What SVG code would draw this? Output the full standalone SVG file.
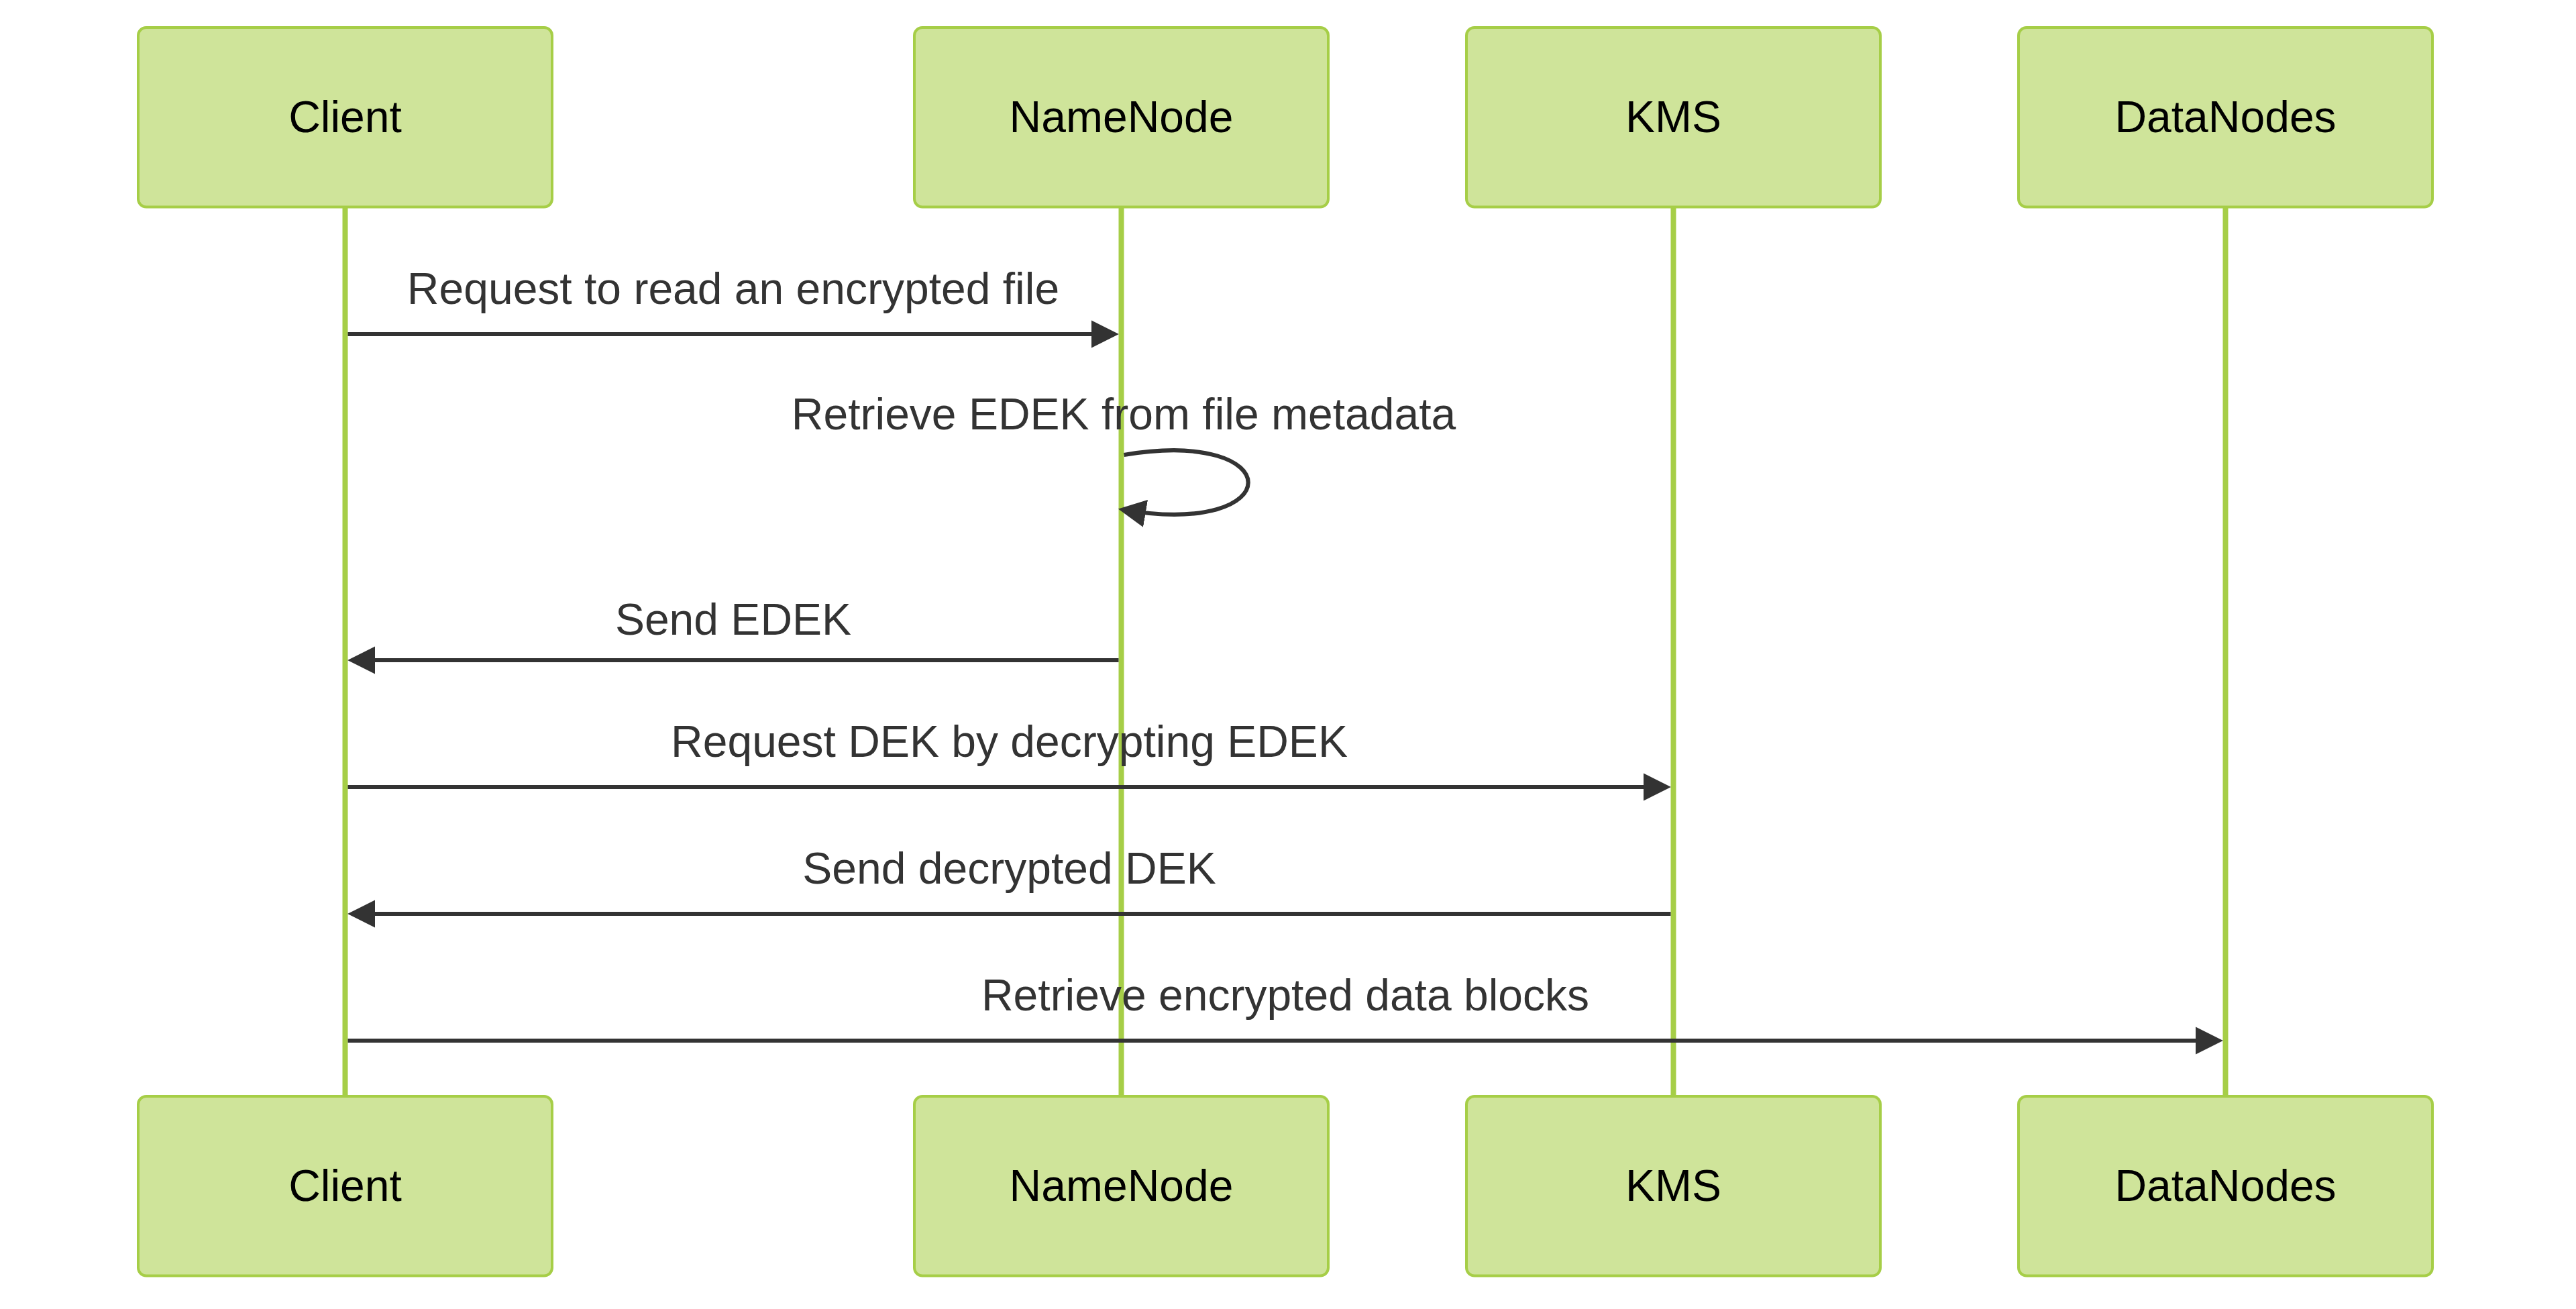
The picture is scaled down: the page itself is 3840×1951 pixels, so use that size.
<svg xmlns="http://www.w3.org/2000/svg" width="3840" height="1951" viewBox="0 0 3840 1951">
  <style>
    .actor { fill: #cfe49a; stroke: #a6ce47; stroke-width: 4; }
    .actor-text { font-family: "Liberation Sans", Arial, sans-serif; font-size: 66px; fill: #000; text-anchor: middle; }
    .lifeline { stroke: #a6ce47; stroke-width: 8; fill: none; }
    .msg { stroke: #333; stroke-width: 6.2; fill: none; }
    .msg-text { font-family: "Liberation Sans", Arial, sans-serif; font-size: 66px; fill: #333; text-anchor: middle; }
  </style>
  <defs>
    <marker id="arrowhead" markerUnits="userSpaceOnUse" markerWidth="50" markerHeight="50" refX="32.5" refY="20.6" orient="auto-start-reverse">
      <path d="M 0 0 L 41.2 20.6 L 0 41.2 z" fill="#333" stroke="none"/>
    </marker>
  </defs>
  <rect width="3840" height="1951" fill="#ffffff"/>

  <g id="lifelines">
    <line class="lifeline" x1="514.5" y1="310" x2="514.5" y2="1634"/>
    <line class="lifeline" x1="1671.5" y1="310" x2="1671.5" y2="1634"/>
    <line class="lifeline" x1="2494.5" y1="310" x2="2494.5" y2="1634"/>
    <line class="lifeline" x1="3317.5" y1="310" x2="3317.5" y2="1634"/>
  </g>

  <g id="client-top">
    <rect class="actor" x="206" y="41" width="617" height="267.5" rx="12" ry="12"/>
    <text class="actor-text" x="514.5" y="197">Client</text>
  </g>
  <g id="namenode-top">
    <rect class="actor" x="1363" y="41" width="617" height="267.5" rx="12" ry="12"/>
    <text class="actor-text" x="1671.5" y="197">NameNode</text>
  </g>
  <g id="kms-top">
    <rect class="actor" x="2186" y="41" width="617" height="267.5" rx="12" ry="12"/>
    <text class="actor-text" x="2494.5" y="197">KMS</text>
  </g>
  <g id="datanodes-top">
    <rect class="actor" x="3009" y="41" width="617" height="267.5" rx="12" ry="12"/>
    <text class="actor-text" x="3317.5" y="197">DataNodes</text>
  </g>

  <g id="client-bottom">
    <rect class="actor" x="206" y="1634" width="617" height="267.5" rx="12" ry="12"/>
    <text class="actor-text" x="514.5" y="1790">Client</text>
  </g>
  <g id="namenode-bottom">
    <rect class="actor" x="1363" y="1634" width="617" height="267.5" rx="12" ry="12"/>
    <text class="actor-text" x="1671.5" y="1790">NameNode</text>
  </g>
  <g id="kms-bottom">
    <rect class="actor" x="2186" y="1634" width="617" height="267.5" rx="12" ry="12"/>
    <text class="actor-text" x="2494.5" y="1790">KMS</text>
  </g>
  <g id="datanodes-bottom">
    <rect class="actor" x="3009" y="1634" width="617" height="267.5" rx="12" ry="12"/>
    <text class="actor-text" x="3317.5" y="1790">DataNodes</text>
  </g>

  <g id="connectors">
    <text class="msg-text" x="1093" y="453">Request to read an encrypted file</text>
    <path class="msg" d="M 518.5 498 L 1659.2 498" marker-end="url(#arrowhead)"/>

    <text class="msg-text" x="1675" y="640">Retrieve EDEK from file metadata</text>
    <path class="msg" d="M 1675.5 678 C 1922.4 637 1922.4 801.5 1675.5 760" marker-end="url(#arrowhead)"/>

    <text class="msg-text" x="1093" y="946">Send EDEK</text>
    <path class="msg" d="M 1667.5 984 L 526.8 984" marker-end="url(#arrowhead)"/>

    <text class="msg-text" x="1504.5" y="1128">Request DEK by decrypting EDEK</text>
    <path class="msg" d="M 518.5 1173 L 2482.2 1173" marker-end="url(#arrowhead)"/>

    <text class="msg-text" x="1504.5" y="1317">Send decrypted DEK</text>
    <path class="msg" d="M 2490.5 1362 L 526.8 1362" marker-end="url(#arrowhead)"/>

    <text class="msg-text" x="1916" y="1506">Retrieve encrypted data blocks</text>
    <path class="msg" d="M 518.5 1551 L 3305.2 1551" marker-end="url(#arrowhead)"/>
  </g>
</svg>
